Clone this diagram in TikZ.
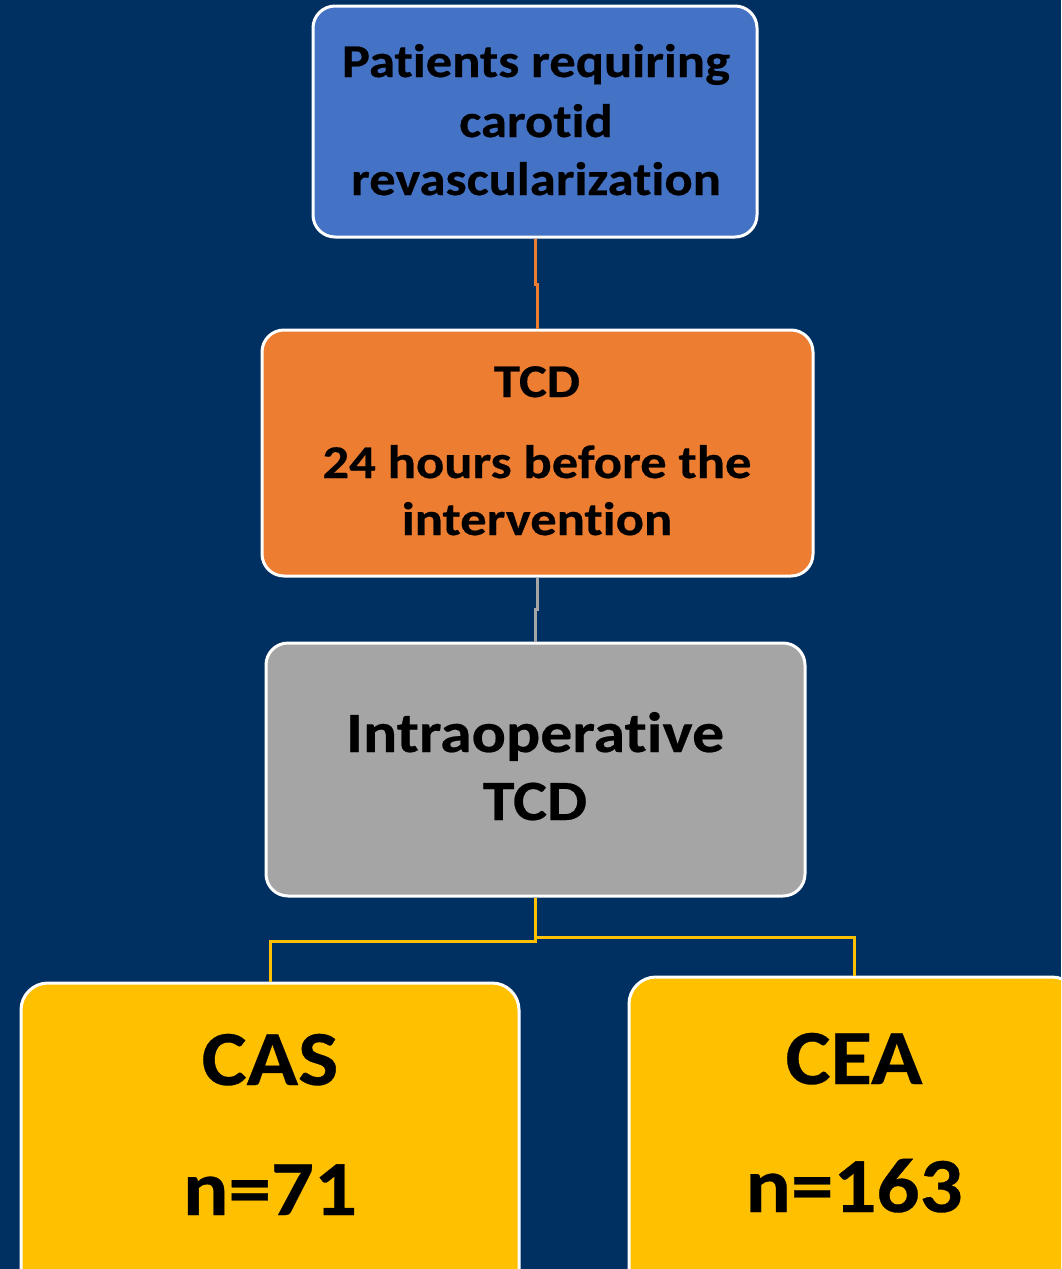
\documentclass[tikz,border=0pt]{standalone}
\usepackage{fontspec}
\setmainfont{Carlito}
\newfontfamily\fontAA[FakeStretch=1.12, Ligatures=NoCommon, FakeBold=0.4]{Carlito Bold}
\newfontfamily\fontCC[FakeStretch=1.09, Ligatures=NoCommon, FakeBold=0.4]{Carlito Bold}
\definecolor{bgC}{RGB}{0,48,97}
\definecolor{blueC}{HTML}{4472C4}
\definecolor{orangeC}{HTML}{ED7D31}
\definecolor{grayC}{HTML}{A5A5A5}
\definecolor{yellowC}{HTML}{FFC000}
\begin{document}
\begin{tikzpicture}[x=1pt,y=-1pt,
  box/.style={draw=white, line width=3pt, rounded corners=22pt, inner sep=0pt},
  bigbox/.style={box, rounded corners=27pt},
  conn/.style={line width=3pt},
  txt/.style={anchor=base, inner sep=0pt, text=black},
  fA/.style={font=\fontAA\fontsize{47pt}{56pt}\selectfont},
  fB/.style={font=\fontAA\fontsize{57pt}{68pt}\selectfont},
  fC/.style={font=\fontCC\fontsize{78pt}{94pt}\selectfont}]
\useasboundingbox (0,0) rectangle (1061,1269);
\clip (0,0) rectangle (1061,1269);
\fill[bgC] (0,0) rectangle (1061,1269);

\node[box, fill=blueC, minimum width=444pt, minimum height=231pt] (b1) at (535,121.5) {};
\node[box, fill=orangeC, minimum width=551pt, minimum height=246pt] (b2) at (537.5,453) {};
\node[box, fill=grayC, minimum width=539pt, minimum height=253pt] (b3) at (535.5,769.5) {};
\node[bigbox, fill=yellowC, minimum width=498pt, minimum height=317pt] (b4) at (270,1141.5) {};
\node[bigbox, fill=yellowC, minimum width=450pt, minimum height=323pt] (b5) at (854,1138.5) {};

\draw[conn, orangeC] (b1.south) -- ++(0,46) -| (b2.north);
\draw[conn, grayC] (b2.south) -- ++(0,32) -| (b3.north);
\draw[conn, yellowC] (b3.south) -- ++(0,44) -| (b4.north);
\draw[conn, yellowC] (b3.south) -- ++(0,40) -| (b5.north);

\node[txt, fA] (t1) at (536,77) {Patients requiring};
\node[txt, fA] (t2) at (536,137) {carotid};
\node[txt, fA] (t3) at (536,195) {revascularization};

\node[txt, fA] (t4) at (537,397) {TCD};
\node[txt, fA] (t5) at (537,478) {24 hours before the};
\node[txt, fA] (t6) at (537,535) {intervention};

\node[txt, fB] (t7) at (535,752) {Intraoperative};
\node[txt, fB] (t8) at (535,820) {TCD};

\node[txt, fC] (t9) at (270,1085) {CAS};
\node[txt, fC] (t10) at (270,1215) {n=71};
\node[txt, fC] (t11) at (854,1084) {CEA};
\node[txt, fC] (t12) at (854,1212) {n=163};
\end{tikzpicture}
\end{document}
